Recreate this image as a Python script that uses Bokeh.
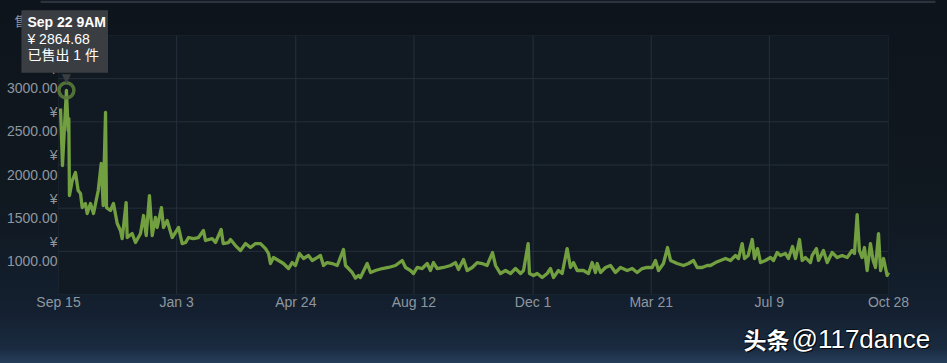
from datetime import datetime
from bokeh.plotting import figure
from bokeh.models import Range1d, FixedTicker, Label, ColumnDataSource, BoxAnnotation
from bokeh.embed import file_html
from bokeh.resources import INLINE

# ---------------- data ----------------
start_date = "2017-09-15"
end_date = "2019-10-28"

days_since_start = [
    1.9, 3.7, 7.375, 9.0, 9.6, 10.2, 12.8, 15.8, 18.3, 20.5,
    22.1, 25.1, 26.7, 29.8, 32.6, 37.0, 39.8, 41.6, 43.8, 44.7,
    48.4, 51.2, 54.7, 57.7, 59.3, 63.0, 64.0, 68.6, 71.7, 76.4,
    79.2, 81.7, 84.7, 87.3, 90.3, 91.9, 95.9, 97.8, 101.2, 105.9,
    111.8, 115.2, 118.3,
    121.1, 125.7, 130.4, 135.0, 136.9, 143.1, 146.2, 151.5, 153.4, 158.3,
    160.2, 164.8, 169.5, 174.2, 178.8, 183.5, 188.1, 192.8, 195.6, 197.4,
    200.2, 204.9, 209.5, 214.2, 217.6, 220.7, 224.4, 228.2, 232.8, 236.3,
    240.9, 244.0, 246.8, 250.2, 254.9, 259.6, 265.4, 267.3, 270.1, 273.5,
    276.6, 279.4,
    281.2, 287.5, 290.6, 295.2, 301.5, 307.3, 313.8, 320.1, 323.2, 327.8,
    330.6, 334.1, 338.7, 343.4, 346.4, 349.2, 352.7, 358.6, 365.1, 369.7,
    372.5, 377.2, 380.6, 385.3, 389.9, 394.6, 399.2, 404.2, 407.0, 411.6,
    416.3, 421.0, 425.6, 430.3, 433.1, 437.4, 438.6, 442.4,
    445.8, 450.5, 455.1, 458.2, 461.0, 465.6, 469.1, 473.7, 476.8, 479.6,
    483.1, 488.9, 493.6, 497.0, 500.1, 501.7, 504.8, 509.4, 514.1, 518.7,
    523.4, 529.6, 534.3, 538.9, 543.6, 548.3, 552.9, 556.0, 558.8, 563.4,
    567.2, 570.0, 576.2, 582.1, 586.7, 591.4, 594.8, 599.5, 604.1,
    607.2, 611.9, 616.5, 621.2, 625.8, 630.5, 633.3, 636.7, 638.9, 642.3,
    646.1, 648.2, 651.0, 653.8, 658.4, 663.1, 665.9, 669.3, 672.4, 677.0,
    679.8, 683.6, 686.4, 690.1, 692.6, 695.7, 700.3, 701.9, 705.9, 707.8,
    712.4, 715.9, 720.5, 725.2, 729.8, 734.5, 739.1, 741.3, 743.8, 745.9,
    748.4, 750.6, 753.1, 756.2, 758.7, 760.9, 763.7, 765.6, 768.4, 771.7,
    773.0,
]

prices = [
    2654, 1994, 2864.68, 2399, 2538, 1646, 1820, 1913, 1704, 1670,
    1507, 1554, 1438, 1554, 1438, 1704, 2017, 1531, 2608, 1507,
    1473, 1554, 1322, 1241, 1148, 1565, 1160, 1206, 1102, 1206,
    1415, 1183, 1646, 1183, 1392, 1276, 1507, 1276, 1357, 1160,
    1276, 1090, 1102,
    1160, 1148, 1160, 1241, 1125, 1148, 1102, 1253, 1090, 1102,
    1137, 1067, 1009, 1090, 1044, 1090, 1090, 1032, 975, 859,
    928, 894, 859, 801, 870, 836, 975, 917, 952, 894,
    928, 952, 836, 870, 859, 836, 1021, 836, 801, 755,
    690, 720,
    697, 859, 755, 778, 801, 813, 836, 894, 813, 778,
    743, 813, 801, 859, 778, 870, 801, 813, 836, 870,
    790, 905, 778, 813, 870, 859, 836, 986, 836, 743,
    778, 743, 801, 743, 778, 1090, 743, 720,
    743, 697, 743, 801, 697, 778, 743, 1032, 813, 870,
    778, 778, 743, 870, 755, 859, 755, 813, 836, 755,
    813, 778, 801, 755, 801, 813, 813, 894, 778, 859,
    1044, 894, 859, 836, 859, 894, 813, 813, 836,
    836, 870, 894, 917, 894, 952, 917, 1090, 917, 952,
    1137, 917, 1032, 870, 894, 928, 894, 986, 952, 975,
    917, 1056, 917, 1137, 894, 928, 870, 952, 1032, 894,
    1009, 870, 986, 928, 952, 928, 1009, 975, 1426, 1009,
    928, 1044, 778, 1090, 894, 813, 1206, 778, 917, 720,
    755,
]

tick_dates = ["2017-09-15", "2018-01-03", "2018-04-24", "2018-08-12",
              "2018-12-01", "2019-03-21", "2019-07-09", "2019-10-28"]
y_ticks = [1000, 1500, 2000, 2500, 3000]
y_min, y_max = 500, 3500

hover_time = "2017-09-22 09:00"
hover_price = 2864.68
hover_sold = 1

caption = "售价"
watermark_cn = "头条"
watermark_en = "@117dance"

# ---------------- derived ----------------
t0 = datetime.strptime(start_date, "%Y-%m-%d")
total_days = (datetime.strptime(end_date, "%Y-%m-%d") - t0).days
tick_dt = [datetime.strptime(d, "%Y-%m-%d") for d in tick_dates]
tick_days = [(d - t0).days for d in tick_dt]
tick_labels = {td: f"{d:%b} {d.day}" for td, d in zip(tick_days, tick_dt)}
y_labels = {v: f"¥\n{v:.2f}" for v in y_ticks}

ht = datetime.strptime(hover_time, "%Y-%m-%d %H:%M")
hover_day = (ht - t0).total_seconds() / 86400.0
hour12 = ht.hour % 12 or 12
ampm = "AM" if ht.hour < 12 else "PM"
tip_line1 = f"{ht:%b} {ht.day} {hour12}{ampm}"
tip_line2 = f"¥ {hover_price:.2f}"
tip_line3 = f"已售出 {hover_sold} 件"

# ---------------- layout (pixels) ----------------
W, H = 947, 363
L, R, T, B = 58, 888, 35, 294          # data area inside the canvas
xs = total_days / (R - L)
ys = (y_max - y_min) / (B - T)
x_range = Range1d(0 - L * xs, total_days + (W - R) * xs)
y_range = Range1d(y_min - (H - B) * ys, y_max + T * ys)

GRID = "#25303c"
EDGE = "#2c3745"
TEXT = "#8e979f"
FONT = "Liberation Sans"

p = figure(width=W, height=H, output_backend="svg", toolbar_location=None,
           x_range=x_range, y_range=y_range,
           min_border_left=0, min_border_right=0, min_border_top=0,
           min_border_bottom=0)
p.background_fill_color = None
p.border_fill_color = None
p.outline_line_color = None
p.styles = {"background": "linear-gradient(to bottom, #0e141b 0%, #101820 55%, #142030 86%, #1a2b40 96%, #263e5c 100%)"}
p.grid.visible = False

# data area background + frame
p.add_layout(BoxAnnotation(left=0, right=total_days, bottom=y_min, top=y_max,
                           fill_color="#111922", fill_alpha=1.0,
                           line_color=EDGE, line_width=1, level="underlay"))
# faint rule at the very top of the page
p.add_layout(BoxAnnotation(left=40, right=935, top=H, bottom=H - 2.5,
                           left_units="screen", right_units="screen",
                           top_units="screen", bottom_units="screen",
                           fill_color="#2a333e", fill_alpha=1.0, line_color=None,
                           level="underlay"))

# axes fixed to the data area edges
p.xaxis.fixed_location = y_min
p.yaxis.fixed_location = 0
p.xaxis.ticker = FixedTicker(ticks=tick_days)
p.yaxis.ticker = FixedTicker(ticks=y_ticks)
p.xaxis.major_label_overrides = tick_labels
p.yaxis.major_label_overrides = y_labels
for ax in (p.xaxis[0], p.yaxis[0]):
    ax.axis_line_color = None
    ax.major_tick_line_color = None
    ax.minor_tick_line_color = None
    ax.major_tick_out = 0
    ax.major_tick_in = 0
    ax.minor_tick_out = 0
    ax.major_label_text_font = FONT
    ax.major_label_text_font_size = "14px"
    ax.major_label_text_color = TEXT
p.xaxis.major_label_standoff = -1
p.yaxis.major_label_standoff = 1

# grid lines within the data area
inner_x = [d for d in tick_days if 0 < d < total_days]
p.segment(x0=inner_x, y0=[y_min] * len(inner_x), x1=inner_x, y1=[y_max] * len(inner_x),
          line_color=GRID, line_width=1)
p.segment(x0=[0] * len(y_ticks), y0=y_ticks, x1=[total_days] * len(y_ticks), y1=y_ticks,
          line_color=GRID, line_width=1)

src = ColumnDataSource(dict(day=days_since_start, price=prices))
p.line("day", "price", source=src, line_color="#72a040", line_width=3.3,
       line_join="round")

# highlight ring
p.scatter([hover_day], [hover_price], size=15, fill_color=None,
          line_color="#5a7b3a", line_width=3.5, line_alpha=0.9)

# faint caption partly hidden behind tooltip
p.add_layout(Label(x=14, y=H - 20, x_units="screen", y_units="screen", text=caption,
                   text_font="Noto Sans CJK SC", text_font_size="13px",
                   text_color=TEXT, text_baseline="middle"))

# tooltip box (text drawn in the box colour, so only the box shows)
TIPBG = "#3a3e42"
p.add_layout(Label(x=hover_day, y=hover_price, x_offset=-45, y_offset=80,
                   text=f"{tip_line1}\n{tip_line1}\n{tip_line1}",
                   text_font=FONT, text_font_size="14px", text_font_style="bold",
                   text_color=TIPBG, text_align="left", text_baseline="top",
                   background_fill_color=TIPBG, background_fill_alpha=1.0,
                   padding=4))
p.add_layout(Label(x=hover_day, y=hover_price, x_offset=0, y_offset=19,
                   text="▼", text_font="DejaVu Sans", text_font_size="12px",
                   text_color=TIPBG, text_align="center", text_baseline="top"))
for txt, yo, style in ((tip_line1, 68, "bold"), (tip_line2, 51.5, "normal"),
                       (tip_line3, 35, "normal")):
    p.add_layout(Label(x=hover_day, y=hover_price, x_offset=-39, y_offset=yo,
                       text=txt, text_font=f"{FONT}, Noto Sans CJK SC",
                       text_font_size="14px", text_font_style=style,
                       text_color="#ffffff", text_align="left",
                       text_baseline="middle"))

# watermark
for dx, dy, col, a in ((1.2, -1.2, "#000000", 0.85), (-1, 1, "#000000", 0.6),
                       (0, 0, "#ffffff", 1.0)):
    p.add_layout(Label(x=743 + dx, y=H - 338 + dy, x_units="screen", y_units="screen",
                       text=watermark_cn, text_font="Noto Sans CJK SC",
                       text_font_size="23px", text_font_style="bold",
                       text_color=col, text_alpha=a, text_baseline="middle"))
    p.add_layout(Label(x=791 + dx, y=H - 338 + dy, x_units="screen", y_units="screen",
                       text=watermark_en, text_font=FONT,
                       text_font_size="26px", text_color=col, text_alpha=a,
                       text_baseline="middle"))

open("out.html", "w").write(file_html(p, INLINE))
